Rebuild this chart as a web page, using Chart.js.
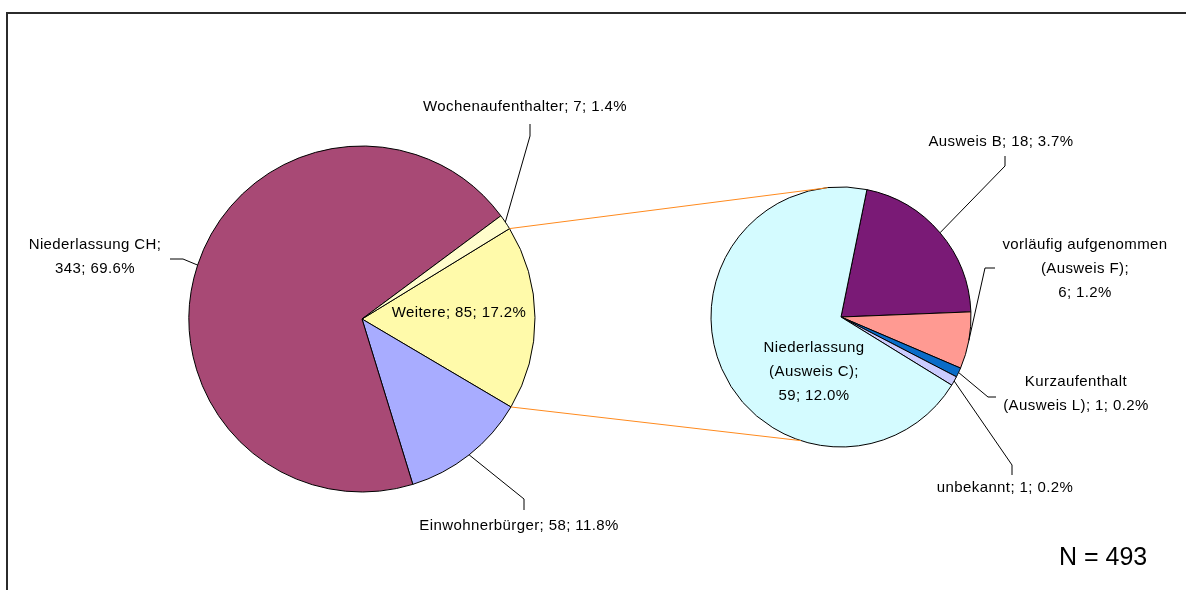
<!DOCTYPE html>
<html>
<head>
<meta charset="utf-8">
<title>Aufenthaltsstatus</title>
<script src="https://cdn.jsdelivr.net/npm/chart.js@4.4.0/dist/chart.umd.min.js"></script>
<style>
    html, body { margin: 0; padding: 0; background: #ffffff; }
    #wrap { position: relative; width: 1186px; height: 590px; overflow: hidden; }
    #wrap canvas { position: absolute; left: 0; top: 0; }
</style>
</head>
<body>
<div id="wrap">
    <canvas id="mainPie" width="1186" height="590"></canvas>
    <canvas id="subPie" width="1186" height="590"></canvas>
</div>
<script>
// Data
const TOTAL = 493;

const mainLabels = ['Weitere', 'Einwohnerbürger', 'Niederlassung CH', 'Wochenaufenthalter'];
const mainValues = [85, 58, 343, 7];
const mainColors = ['#FFFAAA', '#A8ACFF', '#A84975', '#FFFDCC'];

const subLabels = ['Ausweis B', 'vorläufig aufgenommen\n(Ausweis F)', 'Kurzaufenthalt\n(Ausweis L)', 'unbekannt', 'Niederlassung\n(Ausweis C)'];
const subValues = [18, 6, 1, 1, 59];
const subColors = ['#7A1A76', '#FF9A92', '#0A6CC8', '#CCCCFF', '#D4FBFF'];

// Layout (label centres, leader elbows)
const mainLabelPos = [
    { x: 459, y: 313, sep: '; ' },
    { x: 519, y: 526, sep: '; ', leader: [[524, 499], [524, 510]] },
    { x: 95, y: 245, sep: ';\n', leader: [[183, 259], [170, 259]] },
    { x: 525, y: 107, sep: '; ', leader: [[530, 136], [530, 124]] }
];
const subLabelPos = [
    { x: 1001, y: 142, sep: '; ', leader: [[1005, 166], [1005, 156]] },
    { x: 1085, y: 245, sep: ';\n', leader: [[985, 268], [995, 268]] },
    { x: 1076, y: 382, sep: '; ', leader: [[988, 397], [996, 397]] },
    { x: 1005, y: 488, sep: '; ', leader: [[1012, 465], [1012, 475]] },
    { x: 814, y: 348, sep: ';\n' }
];
const LABEL_FONT = '15px "Liberation Sans", Arial, sans-serif';
const LINE_H = 24;

function labelLines(name, value, sep) {
    const pct = (value / TOTAL * 100).toFixed(1);
    return (name + sep + value + '; ' + pct + '%').split('\n');
}

function edgePoint(arc, angle) {
    return [arc.x + arc.outerRadius * Math.cos(angle), arc.y + arc.outerRadius * Math.sin(angle)];
}

function drawLabels(ctx, arcs, labels, values, layout) {
    arcs.forEach((arc, i) => {
        const pos = layout[i];
        if (pos.leader) {
            const mid = (arc.startAngle + arc.endAngle) / 2;
            const p = edgePoint(arc, mid);
            ctx.beginPath();
            ctx.moveTo(p[0], p[1]);
            pos.leader.forEach(pt => ctx.lineTo(pt[0], pt[1]));
            ctx.strokeStyle = '#000000';
            ctx.lineWidth = 1;
            ctx.stroke();
        }
        const lines = labelLines(labels[i], values[i], pos.sep);
        lines.forEach((line, j) => {
            ctx.fillText(line, pos.x, pos.y + j * LINE_H);
        });
    });
}

const overlay = {
    id: 'overlay',
    afterDraw(chart) {
        const ctx = chart.ctx;
        const mainArcs = mainChart.getDatasetMeta(0).data;
        const subArcs = chart.getDatasetMeta(0).data;
        ctx.save();

        // chart area frame
        ctx.fillStyle = '#2b2b2b';
        ctx.fillRect(6, 12, 1180, 2);
        ctx.fillRect(6, 12, 2, 578);

        // connector lines from "Weitere" to the second pie
        const w = mainArcs[0];
        const s = subArcs[0];
        const a1 = edgePoint(w, w.startAngle);
        const a2 = edgePoint(w, w.endAngle);
        const b1 = edgePoint(s, -96 * Math.PI / 180);
        const b2 = edgePoint(s, 108 * Math.PI / 180);
        ctx.strokeStyle = '#FF8A1E';
        ctx.lineWidth = 1;
        ctx.beginPath();
        ctx.moveTo(a1[0], a1[1]);
        ctx.lineTo(b1[0], b1[1]);
        ctx.moveTo(a2[0], a2[1]);
        ctx.lineTo(b2[0], b2[1]);
        ctx.stroke();

        // data labels
        ctx.font = LABEL_FONT;
        ctx.letterSpacing = '0.4px';
        ctx.fillStyle = '#000000';
        ctx.textAlign = 'center';
        ctx.textBaseline = 'middle';
        drawLabels(ctx, mainArcs, mainLabels, mainValues, mainLabelPos);
        drawLabels(ctx, subArcs, subLabels, subValues, subLabelPos);

        // N
        ctx.font = '25px "Liberation Sans", Arial, sans-serif';
        ctx.letterSpacing = '0px';
        ctx.textAlign = 'left';
        ctx.fillText('N = ' + TOTAL, 1059, 558);
        ctx.restore();
    }
};

const commonOptions = {
    responsive: false,
    animation: false,
    events: [],
    plugins: {
        legend: { display: false },
        tooltip: { enabled: false }
    }
};

// Main pie
const mainChart = new Chart(document.getElementById('mainPie'), {
    type: 'pie',
    data: {
        labels: mainLabels,
        datasets: [{
            data: mainValues,
            backgroundColor: mainColors,
            borderColor: '#000000',
            borderWidth: 1,
            hoverOffset: 0
        }]
    },
    options: {
        ...commonOptions,
        rotation: 58.5,
        radius: 173,
        layout: { padding: { left: 180, right: 642, top: 130, bottom: 82 } }
    }
});

// Second pie (breakdown of "Weitere")
const subChart = new Chart(document.getElementById('subPie'), {
    type: 'pie',
    data: {
        labels: subLabels,
        datasets: [{
            data: subValues,
            backgroundColor: subColors,
            borderColor: '#000000',
            borderWidth: 1,
            hoverOffset: 0
        }]
    },
    options: {
        ...commonOptions,
        rotation: 11.5,
        radius: 130,
        layout: { padding: { left: 690, right: 194, top: 170, bottom: 126 } }
    },
    plugins: [overlay]
});
</script>
</body>
</html>
